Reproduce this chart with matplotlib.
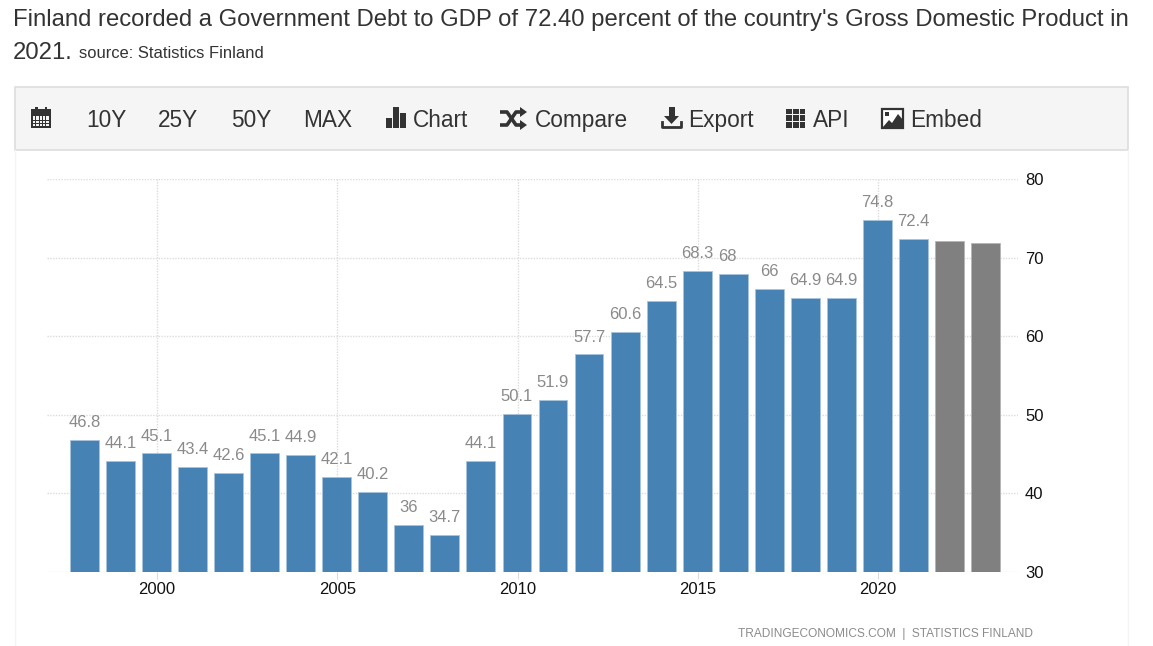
import matplotlib
matplotlib.use("Agg")
import matplotlib.pyplot as plt
from matplotlib.patches import Rectangle, Polygon

W, H = 1153, 646

years = [1998, 1999, 2000, 2001, 2002, 2003, 2004, 2005, 2006, 2007, 2008, 2009, 2010,
         2011, 2012, 2013, 2014, 2015, 2016, 2017, 2018, 2019, 2020, 2021]
values = [46.8, 44.1, 45.1, 43.4, 42.6, 45.1, 44.9, 42.1, 40.2, 36, 34.7, 44.1, 50.1,
          51.9, 57.7, 60.6, 64.5, 68.3, 68, 66, 64.9, 64.9, 74.8, 72.4]
forecast_years = [2022, 2023]
forecast_values = [72.1, 71.9]
x_ticks = [2000, 2005, 2010, 2015, 2020]
y_ticks = [30, 40, 50, 60, 70, 80]
# labels the site nudges sideways so they do not collide
label_shift = {2016: -4.3}

toolbar_items = [("10Y", 86), ("25Y", 158), ("50Y", 231), ("MAX", 303), ("Chart", 413),
                 ("Compare", 535), ("Export", 688), ("API", 813), ("Embed", 910)]

BLUE = "#4682b4"
GREY = "#808080"
DARK = "#333333"
BAR_SHIFT = -0.015  # bars sit a little left of the ticks

plt.rcParams["font.family"] = ["Liberation Sans", "DejaVu Sans"]

fig = plt.figure(figsize=(W / 100, H / 100), dpi=100, facecolor="white")

# page layer in pixel coordinates, for the heading and the toolbar
page = fig.add_axes([0, 0, 1, 1])
page.set_xlim(0, W)
page.set_ylim(H, 0)
page.axis("off")

page.text(13, 26, "Finland recorded a Government Debt to GDP of 72.40 percent of the country's Gross Domestic Product in",
          fontsize=17.2, color=DARK)
page.text(13, 59, "2021.", fontsize=17.2, color=DARK)
page.text(79, 58, "source: Statistics Finland", fontsize=11.9, color=DARK)

page.plot([15, 15], [150, H], color="#f4f4f4", lw=1)
page.plot([1128, 1128], [150, H], color="#f4f4f4", lw=1)
page.add_patch(Rectangle((15, 87), 1113, 63, facecolor="#f5f5f5", edgecolor="#dddddd", lw=1.2))

for label, x in toolbar_items:
    page.text(x, 127, label, fontsize=16.3, color=DARK, va="baseline")

# calendar icon
page.add_patch(Rectangle((31, 109), 20, 19, color=DARK, lw=0))
page.add_patch(Rectangle((35, 106.5), 2.5, 3, color=DARK, lw=0))
page.add_patch(Rectangle((44.5, 106.5), 2.5, 3, color=DARK, lw=0))
for i in range(5):
    for j in range(4):
        page.add_patch(Rectangle((33 + i * 3.3, 115.5 + j * 2.9), 2.4, 2, color="#f5f5f5", lw=0))

# bar chart icon
page.add_patch(Rectangle((386, 118), 5.5, 10, color=DARK, lw=0))
page.add_patch(Rectangle((393, 107), 5.5, 21, color=DARK, lw=0))
page.add_patch(Rectangle((400, 113), 5.5, 15, color=DARK, lw=0))

# shuffle icon
page.plot([500, 507, 516, 522], [112, 112, 125, 125], color=DARK, lw=2.6, solid_capstyle="butt")
page.plot([500, 507, 516, 522], [125, 125, 112, 112], color=DARK, lw=2.6, solid_capstyle="butt")
page.add_patch(Polygon([[520, 107], [527, 112], [520, 117]], color=DARK, lw=0))
page.add_patch(Polygon([[520, 120], [527, 125], [520, 130]], color=DARK, lw=0))

# export icon
page.add_patch(Rectangle((668.5, 107), 6, 10, color=DARK, lw=0))
page.add_patch(Polygon([[664, 116], [679, 116], [671.5, 124]], color=DARK, lw=0))
page.plot([662, 662, 681, 681], [122, 127, 127, 122], color=DARK, lw=2)

# API grid icon
for i in range(3):
    for j in range(3):
        page.add_patch(Rectangle((786 + i * 6.8, 108.5 + j * 6.8), 5.8, 5.8, color=DARK, lw=0))

# embed image icon
page.add_patch(Rectangle((882, 109), 21, 19, facecolor="white", edgecolor=DARK, lw=1.6))
page.add_patch(Polygon([[883, 127], [889, 120], [892, 123], [898, 114], [903, 120], [903, 127]], color=DARK, lw=0))
page.add_patch(Rectangle((885, 112), 4, 4, color=DARK, lw=0))

page.text(738, 634, "TRADINGECONOMICS.COM  |  STATISTICS FINLAND", fontsize=8.6, color="#8c8c8c",
          va="center")

# chart axes, placed to the pixel bounds of the plot area
left, right, top, bottom = 47, 1018, 179.3, 572
ax = fig.add_axes([left / W, 1 - bottom / H, (right - left) / W, (bottom - top) / H])
ax.patch.set_alpha(0)
ax.set_ylim(30, 80)
px_per_year = (878 - 157) / 20
ax.set_xlim(2000 + (left - 157) / px_per_year, 2000 + (right - 157) / px_per_year)

bar_x = [y + BAR_SHIFT for y in years]
ax.bar(bar_x, [v - 30 for v in values], bottom=30, width=0.8, color=BLUE, edgecolor="#a9c4dc", lw=0.6, zorder=3)
ax.bar([y + BAR_SHIFT for y in forecast_years], [v - 30 for v in forecast_values], bottom=30, width=0.8,
       color=GREY, edgecolor="#b5b5b5", lw=0.6, zorder=3)

for x, val, year in zip(bar_x, values, years):
    ax.annotate(f"{val:g}", (x, val), xytext=(label_shift.get(year, 0), 12.5), textcoords="offset points",
                ha="center", va="center", fontsize=12, color="#8a8a8a", zorder=4)

ax.set_xticks(x_ticks)
ax.set_yticks(y_ticks)
ax.yaxis.tick_right()
ax.grid(True, color="#dcdcdc", linestyle=(0, (1, 1)), lw=1, zorder=0)
ax.set_axisbelow(True)
ax.tick_params(axis="x", length=5, color="#dcdcdc", labelsize=12, labelcolor="#111111", pad=2)
ax.tick_params(axis="y", length=0, labelsize=12, labelcolor="#111111", pad=5)
for spine in ax.spines.values():
    spine.set_visible(False)

fig.savefig("out.png", dpi=100)
plt.close(fig)
